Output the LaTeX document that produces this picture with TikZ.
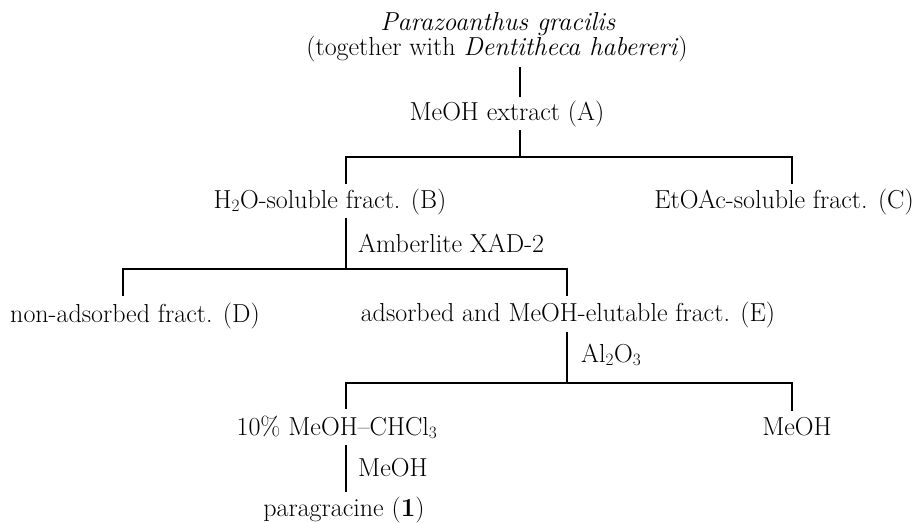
\documentclass[tikz,border=0pt]{standalone}
\begin{document}
\begin{tikzpicture}[x=1pt,y=-1pt,
  lbl/.style={inner sep=0pt,anchor=base,font=\fontsize{26}{30}\selectfont},
  lblw/.style={lbl,anchor=base west},
  lble/.style={lbl,anchor=base east},
  ln/.style={line width=1.2pt}]
\useasboundingbox (0,0) rectangle (917,522);
% texts
\node[lbl] (t1) at (498,30) {\textit{Parazoanthus gracilis}};
\node[lbl] (t2) at (497,55) {(together with \textit{Dentitheca habereri})};
\node[lbl] (A) at (507,120) {MeOH extract (A)};
\node[lbl] (B) at (330,208) {H$_2$O-soluble fract. (B)};
\node[lble] (C) at (914,208) {EtOAc-soluble fract. (C)};
\node[lblw] (amb) at (358,252) {Amberlite XAD-2};
\node[lbl] (D) at (135,322) {non-adsorbed fract. (D)};
\node[lbl] (E) at (568,321) {adsorbed and MeOH-elutable fract. (E)};
\node[lblw] (al) at (581,362) {Al$_2$O$_3$};
\node[lbl] (F) at (337,435) {10\% MeOH--CHCl$_3$};
\node[lbl] (G) at (797,435) {MeOH};
\node[lblw] (me) at (358,476) {MeOH};
\node[lbl] (P) at (344,516) {paragracine (\textbf{1})};
% junction coordinates
\coordinate (a1) at (520,67);
\coordinate (a2) at (520,97);
\coordinate (b1) at (520,130);
\coordinate (b2) at (520,157);
\coordinate (bl) at (346,157);
\coordinate (br) at (792,157);
\coordinate (bl2) at (346,184);
\coordinate (br2) at (792,184);
\coordinate (c1) at (346,218);
\coordinate (c2) at (346,269);
\coordinate (cl) at (123,269);
\coordinate (cr) at (567,269);
\coordinate (cl2) at (123,296);
\coordinate (cr2) at (567,296);
\coordinate (d1) at (567,332);
\coordinate (d2) at (567,383);
\coordinate (dl) at (346,383);
\coordinate (dr) at (792,383);
\coordinate (dl2) at (346,409);
\coordinate (dr2) at (792,411);
\coordinate (e1) at (346,445);
\coordinate (e2) at (346,492);
% connectors
\draw[ln] (a1) -- (a2);
\draw[ln] (b1) -- (b2);
\draw[ln] (bl2) -- (bl) -- (br) -- (br2);
\draw[ln] (c1) -- (c2);
\draw[ln] (cl2) -- (cl) -- (cr) -- (cr2);
\draw[ln] (d1) -- (d2);
\draw[ln] (dl2) -- (dl) -- (dr) -- (dr2);
\draw[ln] (e1) -- (e2);
\end{tikzpicture}
\end{document}
